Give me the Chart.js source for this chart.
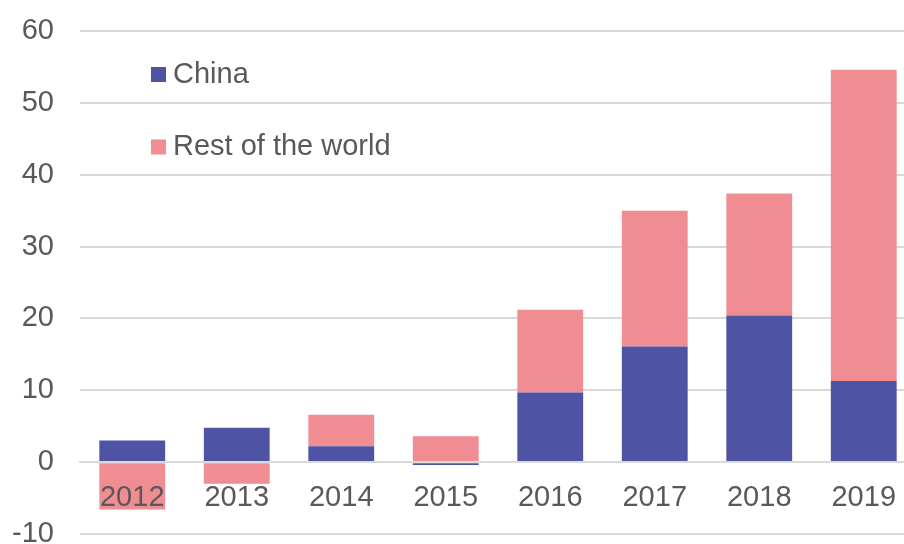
<!DOCTYPE html>
<html>
<head>
<meta charset="utf-8">
<script src="https://cdn.jsdelivr.net/npm/chart.js@4/dist/chart.umd.min.js"></script>
<style>
html,body{margin:0;padding:0;overflow:hidden;background:#ffffff;width:904px;height:544px;}
#wrap{position:absolute;left:0;top:-13px;width:930px;height:591px;}
</style>
</head>
<body>
<div id="wrap"><canvas id="c"></canvas></div>
<script>
const years = ['2012', '2013', '2014', '2015', '2016', '2017', '2018', '2019'];
const china = [3.0, 4.8, 2.2, -0.4, 9.7, 16.1, 20.4, 11.3];
const restOfWorld = [-6.6, -3.0, 4.4, 3.6, 11.5, 18.9, 17.0, 43.3];
const yMin = -10;
const yMax = 60;
const yStep = 10;

const FONT = '"Liberation Sans", Arial, sans-serif';
const TEXT = '#595959';
const GRID = '#D9D9D9';

const insideLegend = {
  id: 'insideLegend',
  afterDatasetsDraw(chart, args, opts) {
    const ctx = chart.ctx;
    const ca = chart.chartArea;
    ctx.save();
    ctx.font = opts.fontSize + 'px ' + FONT;
    ctx.textBaseline = 'middle';
    ctx.textAlign = 'left';
    chart.data.datasets.forEach((ds, i) => {
      const x = ca.left + opts.offsetX;
      const yc = ca.top + opts.offsetY + i * opts.spacing;
      ctx.fillStyle = ds.backgroundColor;
      ctx.fillRect(x, yc - opts.box / 2, opts.box, opts.box);
      ctx.fillStyle = TEXT;
      ctx.fillText(ds.label, x + opts.box + opts.gap, yc);
    });
    ctx.restore();
  }
};

new Chart(document.getElementById('c'), {
  type: 'bar',
  data: {
    labels: years,
    datasets: [
      { label: 'China', data: china, backgroundColor: '#4E54A3', borderWidth: 0,
        barPercentage: 0.63, categoryPercentage: 1.0 },
      { label: 'Rest of the world', data: restOfWorld, backgroundColor: '#F08D93', borderWidth: 0,
        barPercentage: 0.63, categoryPercentage: 1.0 }
    ]
  },
  options: {
    responsive: true,
    maintainAspectRatio: false,
    animation: false,
    devicePixelRatio: 1,
    layout: { padding: { top: 44, bottom: 44, left: 0, right: 14 } },
    plugins: {
      legend: { display: false },
      tooltip: { enabled: false },
      insideLegend: { offsetX: 71, offsetY: 43.5, spacing: 72.5, box: 15, gap: 7, fontSize: 29 }
    },
    scales: {
      x: {
        stacked: true,
        position: { y: 0 },
        grid: { display: false, drawTicks: false },
        border: { display: true, color: GRID, width: 2, z: 1 },
        ticks: { color: TEXT, font: { family: FONT, size: 29 }, padding: 18, z: 1, maxRotation: 0, autoSkip: false }
      },
      y: {
        stacked: true,
        min: yMin,
        max: yMax,
        afterFit(scale) { scale.width = 80; },
        grid: { color: GRID, lineWidth: 2, drawTicks: false },
        border: { display: false },
        ticks: { stepSize: yStep, color: TEXT, font: { family: FONT, size: 29 }, padding: 26 }
      }
    }
  },
  plugins: [insideLegend]
});
</script>
</body>
</html>
